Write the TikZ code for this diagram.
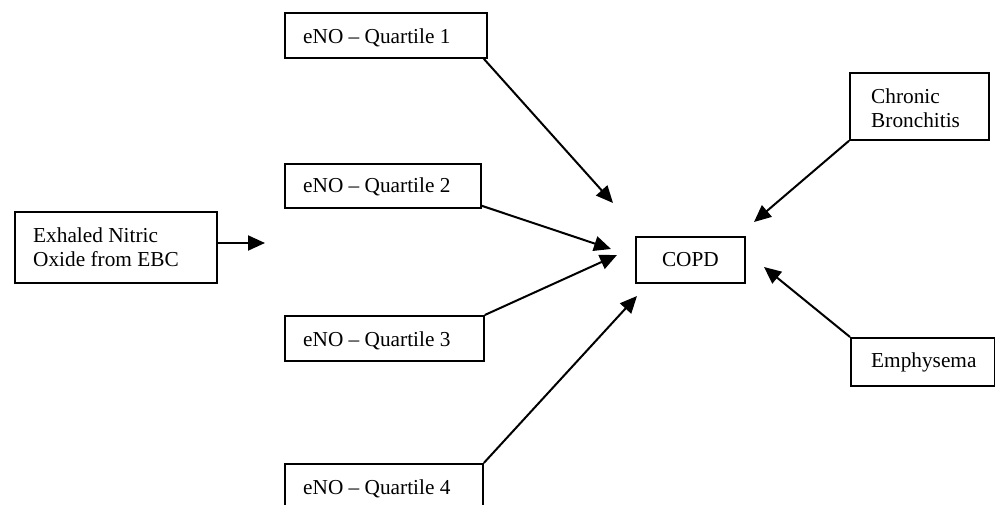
\documentclass[tikz,border=0pt]{standalone}
\usepackage{fontspec}
\setmainfont{Liberation Serif}
\usetikzlibrary{arrows.meta,calc}
\newcommand{\firstlinestrut}{\rule{0pt}{17pt}}
\begin{document}
\begin{tikzpicture}[x=1pt,y=-1pt,
  box/.style={draw, line width=1.8pt, inner sep=0pt, anchor=north west},
  txt/.style={inner sep=0pt, anchor=north west, align=left, font=\fontsize{21.3}{24}\selectfont},
  arr/.style={line width=2pt, -{Triangle[length=17pt,width=15pt]}}]
\useasboundingbox (0,0) rectangle (995,505);

% boxes
\node[box, minimum width=202pt, minimum height=71pt] (ex) at (14,211) {};
\node[box, minimum width=202pt, minimum height=45pt] (q1) at (284,12) {};
\node[box, minimum width=196pt, minimum height=44pt] (q2) at (284,163) {};
\node[box, minimum width=199pt, minimum height=45pt] (q3) at (284,315) {};
\node[box, minimum width=198pt, minimum height=45pt] (q4) at (284,463) {};
\node[box, minimum width=109pt, minimum height=46pt, font=\fontsize{21.3}{24}\selectfont] (copd) at (635,236) {COPD};
\node[box, minimum width=139pt, minimum height=67pt] (cb) at (849,72) {};
\node[box, minimum width=144pt, minimum height=48pt] (em) at (850,337) {};

% texts
\node[txt] (ext) at ($(ex.north west)+(19,14)$) {\firstlinestrut Exhaled Nitric\\Oxide from EBC};
\node[txt] (q1t) at ($(q1.north west)+(19,14)$) {\firstlinestrut eNO – Quartile 1};
\node[txt] (q2t) at ($(q2.north west)+(19,12)$) {\firstlinestrut eNO – Quartile 2};
\node[txt] (q3t) at ($(q3.north west)+(19,14)$) {\firstlinestrut eNO – Quartile 3};
\node[txt] (q4t) at ($(q4.north west)+(19,14)$) {\firstlinestrut eNO – Quartile 4};
\node[txt] (cbt) at ($(cb.north west)+(22,14)$) {\firstlinestrut Chronic\\Bronchitis};
\node[txt] (emt) at ($(em.north west)+(21,13)$) {\firstlinestrut Emphysema};

% arrow tips
\coordinate (a0) at (265,243);
\coordinate (a1) at (613,203);
\coordinate (a2) at (611,249);
\coordinate (a3) at (617,255);
\coordinate (a4) at (637,296);
\coordinate (a5) at (754,222);
\coordinate (a6) at (764,267);

% arrows
\draw[arr] (ex.east |- a0) -- (a0);
\draw[arr] ($(q1.south east)+(-4,0)$) -- (a1);
\draw[arr] ($(q2.south east)+(0,-3)$) -- (a2);
\draw[arr] (q3.north east) -- (a3);
\draw[arr] (q4.north east) -- (a4);
\draw[arr] (cb.south west) -- (a5);
\draw[arr] (em.north west) -- (a6);
\end{tikzpicture}
\end{document}
